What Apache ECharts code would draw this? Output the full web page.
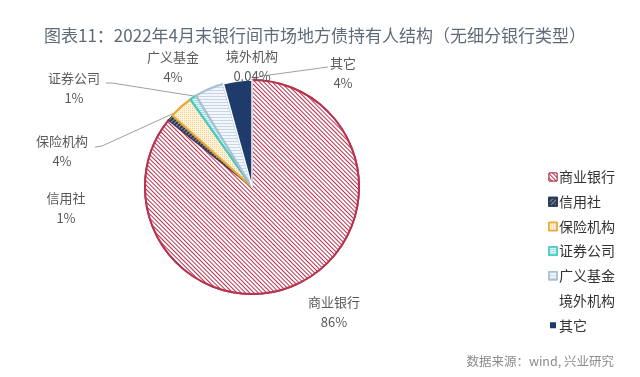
<!DOCTYPE html>
<html>
<head>
<meta charset="utf-8">
<script src="https://cdn.jsdelivr.net/npm/echarts@6/dist/echarts.min.js"></script>
<style>
html,body{margin:0;padding:0;background:#fff;}
#c{width:640px;height:377px;}
</style>
</head>
<body>
<div id="c"></div>
<script>
var titleText = '图表11：2022年4月末银行间市场地方债持有人结构（无细分银行类型）';
var sourceText = '数据来源：wind, 兴业研究';
var categories = ['商业银行', '信用社', '保险机构', '证券公司', '广义基金', '境外机构', '其它'];
var values = [85.8, 0.9, 3.6, 1.0, 4.4, 0.04, 4.3];

var FONT = '"Noto Sans CJK SC", "Noto Sans", sans-serif';

var styles = [
  {color:'#ffffff', borderColor:'#b8334f', borderWidth:2,
   decal:{symbol:'rect', color:'#b8334f', backgroundColor:'#ffffff', dashArrayX:[1,0], dashArrayY:[1,1.1], rotation:Math.PI/4}},
  {color:'#2e3b57', borderColor:'#2e3b57', borderWidth:1,
   decal:{symbol:'rect', color:'#8a94a8', backgroundColor:'#2e3b57', dashArrayX:[1,0], dashArrayY:[1,2], rotation:-Math.PI/4}},
  {color:'#fbe6bd', borderColor:'#eba634', borderWidth:2,
   decal:{symbol:'rect', color:'#f5cf8a', backgroundColor:'#fdf3de', dashArrayX:[1,1], dashArrayY:[1,1], rotation:0}},
  {color:'#c7f1ee', borderColor:'#46c9c2', borderWidth:2,
   decal:{symbol:'rect', color:'#9fe3de', backgroundColor:'#e6f8f6', dashArrayX:[1,0], dashArrayY:[1,1], rotation:0}},
  {color:'#e9eff6', borderColor:'#a8bfd8', borderWidth:2,
   decal:{symbol:'rect', color:'#c8d5e5', backgroundColor:'#f3f6fa', dashArrayX:[1,0], dashArrayY:[1,1.5], rotation:0}},
  {color:'#ffffff', borderColor:'#ffffff', borderWidth:0},
  {color:'#1f3b6b', borderColor:'#ffffff', borderWidth:1.5}
];

var labelPos = [
  [334, 312], [66, 208], [62, 151], [74, 88], [173, 67], [252, 66], [343, 73]
];
var linePts = {
  2: [[181, 110], [102, 146], [95, 147]],
  3: [[194, 96], [112, 83], [106, 83]],
  6: [[253, 79], [262, 76], [328, 67]]
};

function fmtPct(v) {
  if (v < 0.5) return v.toFixed(2) + '%';
  return Math.round(v) + '%';
}

var pieData = categories.map(function (name, i) {
  return {name: name, value: values[i], itemStyle: styles[i]};
});

var legendData = categories.map(function (name, i) {
  var it = {name: name, icon: 'rect'};
  if (i === 6) it.itemStyle = {color:'#1f3b6b', borderColor:'#ffffff', borderWidth:2};
  if (i === 5) it.itemStyle = {color:'#ffffff', borderColor:'#ffffff', borderWidth:0};
  if (i === 0) it.itemStyle = {borderWidth:1};
  if (i >= 2 && i <= 4) it.itemStyle = {borderWidth:1.5};
  return it;
});

var chart = echarts.init(document.getElementById('c'), null, {renderer:'canvas'});
chart.setOption({
  backgroundColor: '#ffffff',
  animation: false,
  title: [
    {text: titleText, left: 39, top: 22,
     textStyle: {fontFamily: FONT, fontSize: 17, fontWeight: 'normal', color: '#5f6b78'}},
    {text: sourceText, right: 21, top: 350,
     textStyle: {fontFamily: FONT, fontSize: 12.5, fontWeight: 'normal', color: '#8c8c8c'}}
  ],
  legend: {
    orient: 'vertical', left: 543, top: 165,
    itemWidth: 8, itemHeight: 8, itemGap: 10.7,
    data: legendData,
    textStyle: {fontFamily: FONT, fontSize: 14, color: '#333333', lineHeight: 14, padding: [0,0,0,-3]}
  },
  series: [{
    type: 'pie',
    center: [252, 187],
    radius: 107,
    startAngle: 90,
    clockwise: true,
    data: pieData,
    label: {
      show: true,
      position: 'outside',
      fontFamily: FONT,
      fontSize: 13,
      lineHeight: 20,
      color: '#595959',
      align: 'center',
      formatter: function (p) { return p.name + '\n' + fmtPct(p.value); }
    },
    labelLine: {show: true, lineStyle: {color: '#a0a0a0', width: 1}},
    labelLayout: function (p) {
      var pos = labelPos[p.dataIndex];
      var res = {x: pos[0], y: pos[1], align: 'center', verticalAlign: 'middle', hideOverlap: false, moveOverlap: false};
      res.labelLinePoints = linePts[p.dataIndex] || [[0,0],[0,0],[0,0]];
      return res;
    },
    emphasis: {disabled: true}
  }]
});
</script>
</body>
</html>
